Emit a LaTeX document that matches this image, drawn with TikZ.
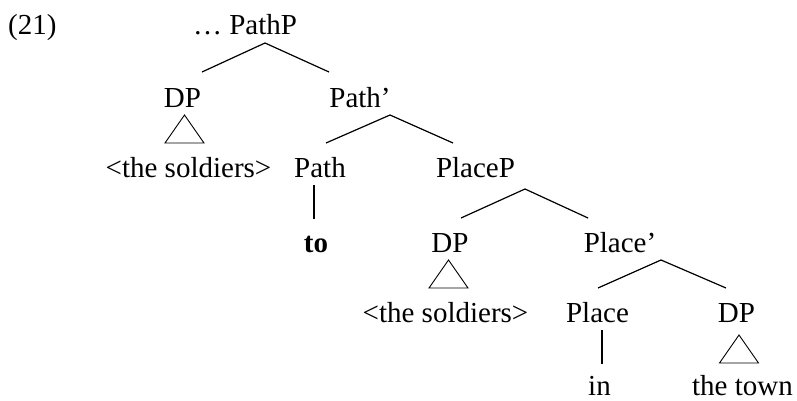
\documentclass[tikz,border=0pt]{standalone}
\usepackage{fontspec}
\setmainfont{Liberation Serif}
\tikzset{
    lbl/.style={anchor=base, inner sep=0pt, font=\fontsize{29}{34}\selectfont},
    branch/.style={line width=1.2pt},
    unary/.style={line width=2.1pt},
    tri/.style={line width=0.9pt}
}
\begin{document}
\begin{tikzpicture}[x=1pt, y=-1pt]
    \useasboundingbox (0,0) rectangle (797,401);

    % labels, by row
    \node[lbl, anchor=base west] (ex) at (8,35) {(21)};
    \node[lbl] (pathP) at (245,35) {… PathP};
    \node[lbl] (dpA) at (182.5,107) {DP};
    \node[lbl] (pathbar) at (360,107) {Path’};
    \node[lbl] (soldA) at (188.5,177) {<the soldiers>};
    \node[lbl] (path) at (320,177) {Path};
    \node[lbl] (placeP) at (475.5,177) {PlaceP};
    \node[lbl] (to) at (316,252) {\textbf{to}};
    \node[lbl] (dpB) at (450,252) {DP};
    \node[lbl] (placebar) at (620,252) {Place’};
    \node[lbl] (soldB) at (445.5,322) {<the soldiers>};
    \node[lbl] (place) at (597.5,322) {Place};
    \node[lbl] (dpC) at (736.5,322) {DP};
    \node[lbl] (in) at (599.5,395) {in};
    \node[lbl] (town) at (742.5,395) {the town};

    % branch points
    \coordinate (a) at (265,43);
    \coordinate (b) at (202,72);
    \coordinate (c) at (329,72);
    \coordinate (d) at (390,115);
    \coordinate (e) at (326,143);
    \coordinate (f) at (453,143);
    \coordinate (g) at (525,189);
    \coordinate (h) at (461,218);
    \coordinate (i) at (588,218);
    \coordinate (j) at (661,260);
    \coordinate (k) at (598,288);
    \coordinate (l) at (726,288);

    \foreach \t/\l/\r in {a/b/c, d/e/f, g/h/i, j/k/l}
        \draw[branch] (\l) -- (\t) -- (\r);

    % heads
    \draw[unary] (314,185) -- (314,219);
    \draw[unary] (602,330) -- (602,364);

    % triangles
    \foreach \x/\y in {184.5/115, 448.5/260, 739/335}
        \draw[tri, line join=miter] (\x,\y) -- ++(-19.5,28) -- ++(39,0) -- cycle;
\end{tikzpicture}
\end{document}
